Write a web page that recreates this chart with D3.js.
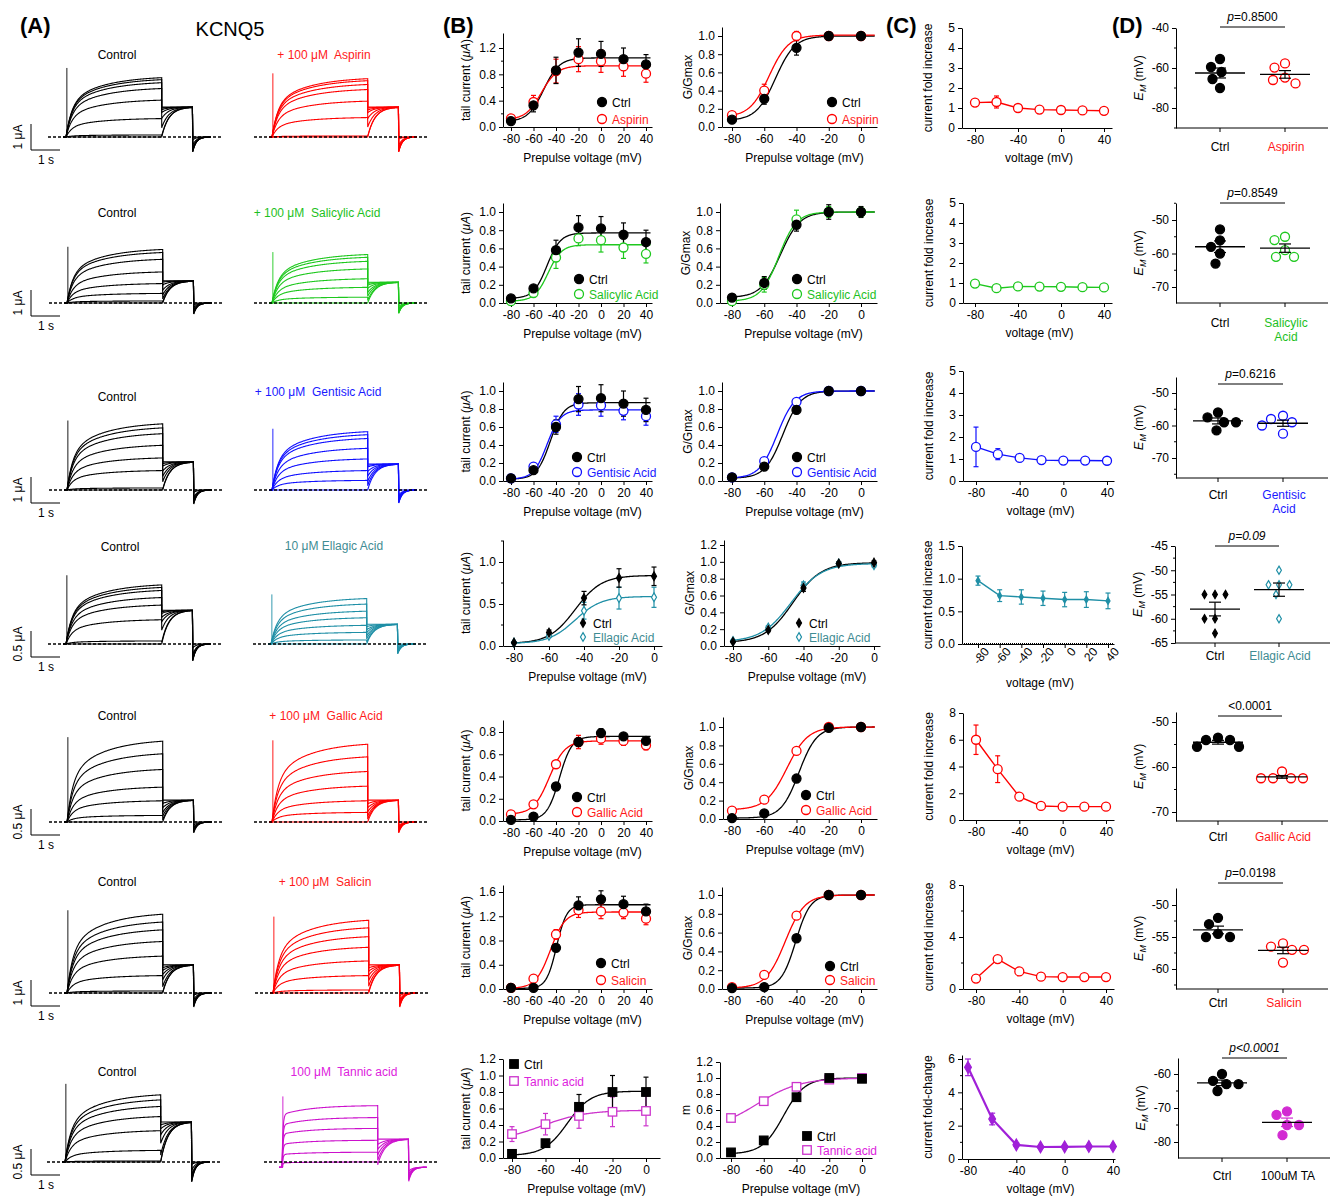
<!DOCTYPE html>
<html><head><meta charset="utf-8">
<script src="https://cdn.jsdelivr.net/npm/d3@7"></script>
<style>
body{margin:0;background:#fff;}
svg{display:block;font-family:"Liberation Sans",Arial,Helvetica,sans-serif;}
</style></head><body>
<svg id="fig" width="1336" height="1199"></svg>
<script>
// ===================== DATA =====================
const volt7=[-80,-60,-40,-20,0,20,40];
const volt5=[-80,-60,-40,-20,0];
const drugNames=["Aspirin","Salicylic Acid","Gentisic Acid","Ellagic Acid","Gallic Acid","Salicin","Tannic acid"];
const drugTitles=["+ 100 \u03bcM\u00a0 Aspirin","+ 100 \u03bcM\u00a0 Salicylic Acid","+ 100 \u03bcM\u00a0 Gentisic Acid","10 \u03bcM Ellagic Acid","+ 100 \u03bcM\u00a0 Gallic Acid","+ 100 \u03bcM\u00a0 Salicin","100 \u03bcM\u00a0 Tannic acid"];
const emLabels=[["Aspirin"],["Salicylic","Acid"],["Gentisic","Acid"],["Ellagic Acid"],["Gallic Acid"],["Salicin"],["100uM TA"]];
const pLabels=["p=0.8500","p=0.8549","p=0.6216","p=0.09","<0.0001","p=0.0198","p<0.0001"];
const scaleUnits=[1,1,1,0.5,0.5,1,0.5];

// Row 1 Aspirin
const r1TailCtrl=[0.09,0.33,0.86,1.13,1.11,1.03,0.95], r1TailCtrlErr=[0.03,0.10,0.20,0.21,0.19,0.17,0.15];
const r1TailDrug=[0.13,0.38,0.85,1.03,1.00,0.92,0.81], r1TailDrugErr=[0.03,0.10,0.18,0.19,0.17,0.15,0.13];
const r1GCtrl=[0.08,0.31,0.87,1.00,1.00], r1GCtrlErr=[0.02,0.06,0.08,0.04,0.02];
const r1GDrug=[0.13,0.40,1.00,1.00,1.00], r1GDrugErr=[0.02,0.07,0.05,0.04,0.02];
const r1FitTail=[[0.08,1.05,-51,7],[0.11,0.93,-53,7]], r1FitG=[[0.07,1.0,-53,6],[0.11,1.01,-57,6]];
const r1Fold=[1.27,1.30,1.00,0.92,0.90,0.88,0.86], r1FoldErr=[0.06,0.30,0.06,0.04,0.04,0.04,0.04];
const r1EmCtrl=[-55.5,-59.5,-62,-65.5,-70], r1EmDrug=[-57.7,-59.8,-64.8,-66,-67.7];
const r1TrCtrl=[2.35,2.27,2.15,1.92,1.46,0.73,0.08,0.0], r1TrDrug=[2.31,2.23,2.08,1.88,1.42,0.77,0.04,0.0], r1TrTail=[1.15,1.15];

// Row 2 Salicylic acid
const r2TailCtrl=[0.05,0.16,0.58,0.83,0.82,0.75,0.67], r2TailCtrlErr=[0.02,0.03,0.11,0.13,0.13,0.13,0.13];
const r2TailDrug=[0.02,0.11,0.50,0.71,0.69,0.61,0.54], r2TailDrugErr=[0.02,0.03,0.12,0.08,0.13,0.12,0.10];
const r2GCtrl=[0.06,0.22,0.86,1.0,1.0], r2GCtrlErr=[0.02,0.07,0.07,0.08,0.06];
const r2GDrug=[0.02,0.20,0.92,1.0,1.0], r2GDrugErr=[0.02,0.08,0.10,0.06,0.04];
const r2FitTail=[[0.05,0.77,-48,6],[0.02,0.64,-47,6]], r2FitG=[[0.06,1.0,-50,6],[0.02,1.0,-51,5.5]];
const r2Fold=[0.97,0.74,0.83,0.82,0.81,0.79,0.78], r2FoldErr=[0.05,0.06,0.04,0.03,0.03,0.03,0.03];
const r2EmCtrl=[-52.8,-56.1,-58,-60,-63], r2EmDrug=[-55,-56,-59,-61,-61];
const r2TrCtrl=[2.12,2.0,1.73,1.23,0.77,0.38,0.08,0.0], r2TrDrug=[1.92,1.81,1.65,1.35,0.96,0.62,0.23,0.0], r2TrTail=[0.85,0.8];

// Row 3 Gentisic acid
const r3TailCtrl=[0.03,0.12,0.60,0.91,0.92,0.86,0.79], r3TailCtrlErr=[0.01,0.03,0.08,0.14,0.15,0.14,0.13];
const r3TailDrug=[0.03,0.16,0.63,0.85,0.84,0.78,0.72], r3TailDrugErr=[0.01,0.03,0.09,0.12,0.12,0.10,0.10];
const r3GCtrl=[0.04,0.16,0.79,1.0,1.0], r3GCtrlErr=[0.01,0.02,0.04,0.01,0.01];
const r3GDrug=[0.04,0.22,0.88,1.0,1.0], r3GDrugErr=[0.01,0.03,0.03,0.01,0.01];
const r3FitTail=[[0.02,0.87,-45,6],[0.02,0.79,-48,6]], r3FitG=[[0.03,1.0,-48.5,5.5],[0.03,1.0,-52,5.5]];
const r3Fold=[1.55,1.22,1.05,0.95,0.93,0.93,0.92], r3FoldErr=[0.9,0.25,0.08,0.05,0.04,0.04,0.04];
const r3EmCtrl=[-56,-57.5,-59,-59,-61.5], r3EmDrug=[-57,-58,-59,-60,-62.5];
const r3TrCtrl=[2.62,2.46,2.23,1.77,1.27,0.77,0.08,0.0], r3TrDrug=[2.31,2.19,2.04,1.65,1.23,0.77,0.38,0.0], r3TrTail=[1.08,1.0];

// Row 4 Ellagic acid
const r4TailCtrl=[0.04,0.16,0.57,0.81,0.83], r4TailCtrlErr=[0.01,0.03,0.08,0.11,0.11];
const r4TailDrug=[0.04,0.12,0.42,0.57,0.58], r4TailDrugErr=[0.01,0.02,0.10,0.13,0.12];
const r4GCtrl=[0.05,0.19,0.69,0.98,0.99], r4GCtrlErr=[0.01,0.02,0.04,0.02,0.02];
const r4GDrug=[0.06,0.22,0.72,0.98,0.96], r4GDrugErr=[0.01,0.02,0.04,0.02,0.02];
const r4FitTail=[[0.03,0.84,-45,7.5],[0.03,0.59,-45,7.5]], r4FitG=[[0.04,0.99,-46,8],[0.05,0.98,-47,8.5]];
const r4Fold=[0.97,0.74,0.72,0.70,0.68,0.68,0.66], r4FoldErr=[0.07,0.09,0.11,0.11,0.11,0.12,0.12];
const r4EmCtrl=[-55,-55,-55,-60,-60,-63], r4EmDrug=[-50,-53,-53,-53,-55,-60];
const r4TrCtrl=[1.17,1.12,1.06,0.92,0.77,0.48,0.06,0.0], r4TrDrug=[0.90,0.79,0.65,0.52,0.37,0.23,0.08,0.0], r4TrTail=[0.65,0.38];

// Row 5 Gallic acid
const r5TailCtrl=[0.01,0.04,0.31,0.71,0.79,0.76,0.72], r5TailCtrlErr=[0.01,0.01,0.03,0.04,0.04,0.03,0.03];
const r5TailDrug=[0.06,0.15,0.51,0.71,0.74,0.72,0.68], r5TailDrugErr=[0.01,0.02,0.03,0.06,0.05,0.04,0.04];
const r5GCtrl=[0.01,0.06,0.44,0.99,1.0], r5GCtrlErr=[0.01,0.01,0.03,0.01,0.01];
const r5GDrug=[0.09,0.21,0.74,1.0,1.0], r5GDrugErr=[0.01,0.02,0.03,0.02,0.01];
const r5FitTail=[[0.01,0.76,-37,5.5],[0.06,0.72,-46,7]], r5FitG=[[0.01,1.0,-38.5,5.5],[0.1,1.0,-46,6.5]];
const r5Fold=[6.0,3.8,1.75,1.05,1.0,1.0,1.0], r5FoldErr=[1.1,1.0,0.15,0.08,0.05,0.05,0.05];
const r5EmCtrl=[-53.5,-54,-54,-55.5,-55.5], r5EmDrug=[-61,-62.5,-62.5,-62.5,-62.5];
const r5TrCtrl=[1.60,1.35,1.04,0.69,0.42,0.13,0.0], r5TrDrug=[1.54,1.29,1.0,0.71,0.42,0.19,0.0], r5TrTail=[0.42,0.42];

// Row 6 Salicin
const r6TailCtrl=[0.02,0.02,0.68,1.38,1.48,1.40,1.28], r6TailCtrlErr=[0.01,0.01,0.06,0.14,0.14,0.13,0.12];
const r6TailDrug=[0.02,0.17,0.90,1.30,1.28,1.26,1.16], r6TailDrugErr=[0.01,0.03,0.08,0.12,0.12,0.10,0.10];
const r6GCtrl=[0.01,0.02,0.54,1.0,1.0], r6GCtrlErr=[0.01,0.01,0.03,0.01,0.01];
const r6GDrug=[0.02,0.15,0.78,1.0,1.0], r6GDrugErr=[0.01,0.02,0.03,0.01,0.01];
const r6FitTail=[[0.01,1.39,-39.5,4.5],[0.01,1.27,-45,6.5]], r6FitG=[[0.01,1.0,-40.5,4.5],[0.01,1.0,-47,6]];
const r6Fold=[0.80,2.30,1.35,0.95,0.92,0.92,0.92], r6FoldErr=[0.05,0.25,0.10,0.05,0.04,0.04,0.04];
const r6EmCtrl=[-52,-53,-54.5,-55,-55], r6EmDrug=[-56,-56.5,-57,-57,-59];
const r6TrCtrl=[3.12,2.81,2.5,2.04,1.46,0.69,0.08,0.0], r6TrDrug=[2.88,2.58,2.23,1.81,1.27,0.69,0.12,0.0], r6TrTail=[1.08,1.08];

// Row 7 Tannic acid
const r7TailCtrl=[0.05,0.18,0.62,0.80,0.80], r7TailCtrlErr=[0.02,0.02,0.15,0.20,0.18];
const r7TailDrug=[0.29,0.41,0.51,0.56,0.57], r7TailDrugErr=[0.09,0.13,0.15,0.18,0.18];
const r7GCtrl=[0.07,0.22,0.76,1.0,0.99], r7GCtrlErr=[0.01,0.01,0.02,0.01,0.01];
const r7GDrug=[0.50,0.71,0.89,0.98,1.0], r7GDrugErr=[0.01,0.01,0.01,0.01,0.01];
const r7FitTail=[[0.03,0.81,-47,7],[0.2,0.58,-62,13]], r7FitG=[[0.05,1.0,-48,6.5],[0.35,1.0,-64,13]];
const r7Fold=[5.5,2.4,0.85,0.72,0.73,0.75,0.75], r7FoldErr=[0.5,0.35,0.1,0.06,0.06,0.06,0.06];
const r7EmCtrl=[-60,-62,-63,-63,-65], r7EmDrug=[-71,-72,-75,-75,-78];
const r7TrCtrl=[1.33,1.23,1.10,0.90,0.62,0.23,0.02,0.0], r7TrDrug=[1.19,0.96,0.75,0.52,0.29,0.10], r7TrTail=[0.77,0.54];

// ===================== LAYOUT / STYLE =====================
const FONT='"Liberation Sans", Arial, Helvetica, sans-serif';
const FS=12;
const svg=d3.select('#fig');
const K_SLOW={t1:0.2,t2:1.2,w:0.55,hold:0};
const K_FAST={t1:0.03,t2:1.0,w:0.85,hold:-0.1};

const ROWS=[
 {tail:[r1TailCtrl,r1TailCtrlErr,r1TailDrug,r1TailDrugErr,r1FitTail],g:[r1GCtrl,r1GCtrlErr,r1GDrug,r1GDrugErr,r1FitG],fold:[r1Fold,r1FoldErr],em:[r1EmCtrl,r1EmDrug],tr:[r1TrCtrl,r1TrDrug,r1TrTail],
  color:'#ff0000',txtColor:'#ff1a1a',cColor:'#ff0000',base:137,titleY:59,ctrlTitleX:117,drugTitleX:324,x0c:66,x0d:272,kd:K_SLOW,mk:'circle',
  T:{xLeft:503,xRight:652,xAxisY:127,yTop:33,xAnch:[-80,511,40,646],yAnch:[0,127,1.2,48],yTicks:[0,0.4,0.8,1.2],yMinor:[0.2,0.6,1.0],dec:1,leg:[602,102,119]},
  G:{xLeft:722,xRight:877,xAxisY:127,yTop:27,xAnch:[-80,732,0,861],yAnch:[0,127,1,36],yTicks:[0,.2,.4,.6,.8,1],dec:1,leg:[832,102,119]},
  C:{xLeft:962,xRight:1112,xAxisY:128,yTop:28,xAnch:[-80,975,40,1104],yAnch:[0,128,5,28],yTicks:[0,1,2,3,4,5],dec:0},
  D:{xLeft:1176,xRight:1328,yBottom:128,yTop:28,yAnch:[-40,28,-80,108],yTicks:[-40,-60,-80],yMinor:[-50,-70,-90],cats:[1220,1285],lineY:27,labY:151}},
 {tail:[r2TailCtrl,r2TailCtrlErr,r2TailDrug,r2TailDrugErr,r2FitTail],g:[r2GCtrl,r2GCtrlErr,r2GDrug,r2GDrugErr,r2FitG],fold:[r2Fold,r2FoldErr],em:[r2EmCtrl,r2EmDrug],tr:[r2TrCtrl,r2TrDrug,r2TrTail],
  color:'#1ec81e',txtColor:'#1ebf1e',cColor:'#1ec81e',base:303,titleY:217,ctrlTitleX:117,drugTitleX:317,x0c:67,x0d:272,kd:K_SLOW,mk:'circle',
  T:{xLeft:503,xRight:652,xAxisY:303,yTop:203,xAnch:[-80,511,40,646],yAnch:[0,303,1,212],yTicks:[0,.2,.4,.6,.8,1],dec:1,leg:[579,279,294]},
  G:{xLeft:720,xRight:877,xAxisY:303,yTop:203,xAnch:[-80,732,0,861],yAnch:[0,303,1,212],yTicks:[0,.2,.4,.6,.8,1],dec:1,leg:[797,279,294]},
  C:{xLeft:963,xRight:1112,xAxisY:303,yTop:203,xAnch:[-80,975,40,1104],yAnch:[0,303,5,203],yTicks:[0,1,2,3,4,5],dec:0},
  D:{xLeft:1176,xRight:1328,yBottom:303,yTop:203,yAnch:[-50,220,-70,287],yTicks:[-50,-60,-70],yMinor:[-45,-55,-65,-75],cats:[1220,1285],lineY:203,labY:327}},
 {tail:[r3TailCtrl,r3TailCtrlErr,r3TailDrug,r3TailDrugErr,r3FitTail],g:[r3GCtrl,r3GCtrlErr,r3GDrug,r3GDrugErr,r3FitG],fold:[r3Fold,r3FoldErr],em:[r3EmCtrl,r3EmDrug],tr:[r3TrCtrl,r3TrDrug,r3TrTail],
  color:'#1010ff',txtColor:'#1a1aff',cColor:'#1010ff',base:490,titleY:401,drugTitleY:396,ctrlTitleX:117,drugTitleX:318,x0c:67,x0d:272,kd:K_SLOW,mk:'circle',
  T:{xLeft:503,xRight:652,xAxisY:481,yTop:382,xAnch:[-80,511,40,646],yAnch:[0,481,1,391],yTicks:[0,.2,.4,.6,.8,1],dec:1,leg:[577,457,472]},
  G:{xLeft:722,xRight:877,xAxisY:481,yTop:382,xAnch:[-80,732,0,861],yAnch:[0,481,1,391],yTicks:[0,.2,.4,.6,.8,1],dec:1,leg:[797,457,472]},
  C:{xLeft:963,xRight:1114,xAxisY:481,yTop:371,xAnch:[-80,976,40,1107],yAnch:[0,481,5,371],yTicks:[0,1,2,3,4,5],dec:0},
  D:{xLeft:1176,xRight:1328,yBottom:478,yTop:377,yAnch:[-50,393,-70,458],yTicks:[-50,-60,-70],yMinor:[-55,-65,-75],cats:[1218,1283],lineY:384,labY:499}},
 {tail:[r4TailCtrl,r4TailCtrlErr,r4TailDrug,r4TailDrugErr,r4FitTail],g:[r4GCtrl,r4GCtrlErr,r4GDrug,r4GDrugErr,r4FitG],fold:[r4Fold,r4FoldErr],em:[r4EmCtrl,r4EmDrug],tr:[r4TrCtrl,r4TrDrug,r4TrTail],
  color:'#1f8fa6',txtColor:'#3f8c93',cColor:'#1f8fa6',base:644,titleY:551,drugTitleY:550,ctrlTitleX:120,drugTitleX:334,x0c:66,x0d:271,kd:K_SLOW,mk:'diamond',
  T:{xLeft:503,xRight:662,xAxisY:646,yTop:540,xAnch:[-80,514,0,654],yAnch:[0,646,1,562],yTicks:[0,.5,1],yMinor:[0.25,0.75,1.25],dec:1,leg:[583,623,637]},
  G:{xLeft:724,xRight:880,xAxisY:646,yTop:540,xAnch:[-80,733,0,874],yAnch:[0,646,1.2,545],yTicks:[0,.2,.4,.6,.8,1,1.2],dec:1,leg:[799,623,637]},
  C:{xLeft:962,xRight:1114,xAxisY:644,yTop:546,xAnch:[-80,978,40,1108],yAnch:[0,644,1.5,546],yTicks:[0,.5,1,1.5],dec:1,rot:true},
  D:{xLeft:1175,xRight:1330,yBottom:643,yTop:546,yAnch:[-45,546,-65,643],yTicks:[-45,-50,-55,-60,-65],yMinor:[-47.5,-52.5,-57.5,-62.5],cats:[1215,1279],lineY:546,labY:660}},
 {tail:[r5TailCtrl,r5TailCtrlErr,r5TailDrug,r5TailDrugErr,r5FitTail],g:[r5GCtrl,r5GCtrlErr,r5GDrug,r5GDrugErr,r5FitG],fold:[r5Fold,r5FoldErr],em:[r5EmCtrl,r5EmDrug],tr:[r5TrCtrl,r5TrDrug,r5TrTail],
  color:'#ff0000',txtColor:'#ff1a1a',cColor:'#ff0000',base:822,titleY:720,ctrlTitleX:117,drugTitleX:326,x0c:67,x0d:272,kd:K_SLOW,mk:'circle',
  T:{xLeft:503,xRight:652,xAxisY:821,yTop:720,xAnch:[-80,511,40,646],yAnch:[0,821,0.8,732],yTicks:[0,.2,.4,.6,.8],dec:1,leg:[577,797,812]},
  G:{xLeft:723,xRight:877,xAxisY:819,yTop:717,xAnch:[-80,732,0,861],yAnch:[0,819,1,727],yTicks:[0,.2,.4,.6,.8,1],dec:1,leg:[806,795,810]},
  C:{xLeft:963,xRight:1114,xAxisY:820,yTop:713,xAnch:[-80,976,40,1106],yAnch:[0,820,8,713],yTicks:[0,2,4,6,8],dec:0},
  D:{xLeft:1176,xRight:1328,yBottom:821,yTop:712,yAnch:[-50,722,-70,812],yTicks:[-50,-60,-70],yMinor:[-55,-65],cats:[1218,1282],lineY:716,labY:841}},
 {tail:[r6TailCtrl,r6TailCtrlErr,r6TailDrug,r6TailDrugErr,r6FitTail],g:[r6GCtrl,r6GCtrlErr,r6GDrug,r6GDrugErr,r6FitG],fold:[r6Fold,r6FoldErr],em:[r6EmCtrl,r6EmDrug],tr:[r6TrCtrl,r6TrDrug,r6TrTail],
  color:'#ff0000',txtColor:'#ff1a1a',cColor:'#ff0000',base:993,titleY:886,ctrlTitleX:117,drugTitleX:325,x0c:67,x0d:273,kd:K_SLOW,mk:'circle',
  T:{xLeft:503,xRight:652,xAxisY:989,yTop:885,xAnch:[-80,511,40,646],yAnch:[0,989,1.6,892],yTicks:[0,.4,.8,1.2,1.6],dec:1,leg:[601,963,980]},
  G:{xLeft:722,xRight:877,xAxisY:989,yTop:887,xAnch:[-80,732,0,861],yAnch:[0,989,1,895],yTicks:[0,.2,.4,.6,.8,1],dec:1,leg:[830,966,980]},
  C:{xLeft:963,xRight:1114,xAxisY:989,yTop:885,xAnch:[-80,976,40,1106],yAnch:[0,989,8,885],yTicks:[0,4,8],yMinor:[2,6],dec:0},
  D:{xLeft:1176,xRight:1328,yBottom:989,yTop:888,yAnch:[-50,905,-60,969],yTicks:[-50,-55,-60],yMinor:[-52.5,-57.5,-62.5],cats:[1218,1283],lineY:883,labY:1007}},
 {tail:[r7TailCtrl,r7TailCtrlErr,r7TailDrug,r7TailDrugErr,r7FitTail],g:[r7GCtrl,r7GCtrlErr,r7GDrug,r7GDrugErr,r7FitG],fold:[r7Fold,r7FoldErr],em:[r7EmCtrl,r7EmDrug],tr:[r7TrCtrl,r7TrDrug,r7TrTail],
  color:'#cc33cc',txtColor:'#dd22dd',cColor:'#a020d8',emColor:'#d22ad2',trColor:'#cc11cc',base:1162,titleY:1076,ctrlTitleX:117,drugTitleX:344,x0c:65,x0d:282,kd:K_FAST,mk:'square',
  T:{xLeft:503,xRight:660,xAxisY:1158,yTop:1059,xAnch:[-80,512,0,646],yAnch:[0,1158,1.2,1059],yTicks:[0,.2,.4,.6,.8,1,1.2],dec:1,leg:[514,1064,1081]},
  G:{xLeft:720,xRight:872,xAxisY:1158,yTop:1062,xAnch:[-80,731,0,862],yAnch:[0,1158,1.2,1062],yTicks:[0,.2,.4,.6,.8,1,1.2],dec:1,leg:[807,1136,1150],ylab:'m'},
  C:{xLeft:962,xRight:1115,xAxisY:1159,yTop:1055,xAnch:[-80,968,40,1113],yAnch:[0,1159,6,1059],yTicks:[0,2,4,6],yMinor:[1,3,5],dec:0,ylab:'current fold-change'},
  D:{xLeft:1178,xRight:1330,yBottom:1158,yTop:1058,yAnch:[-60,1074,-80,1142],yTicks:[-60,-70,-80],yMinor:[-65,-75,-85],cats:[1222,1287],lineY:1058,labY:1180}}
];

// ===================== HELPERS =====================
function lin(anch,ext){const s0=d3.scaleLinear().domain([anch[0],anch[2]]).range([anch[1],anch[3]]);return d3.scaleLinear().domain(ext.map(p=>s0.invert(p))).range(ext);}
function boltz(p,v){return p[0]+(p[1]-p[0])/(1+Math.exp((p[2]-v)/p[3]));}
function txt(parent,x,y,s,o={}){const t=parent.append('text').attr('x',x).attr('y',y).text(s).attr('font-size',o.size||FS).attr('font-family',FONT).attr('fill',o.color||'#000').attr('text-anchor',o.anchor||'middle');if(o.weight)t.attr('font-weight',o.weight);if(o.italic)t.attr('font-style','italic');if(o.rot)t.attr('transform',`rotate(${o.rot},${x},${y})`);return t;}
function styleAxis(sel){sel.attr('font-family',FONT).attr('font-size',FS);sel.selectAll('path.domain').attr('stroke','#000').attr('stroke-width',1);sel.selectAll('.tick line').attr('stroke','#000');sel.selectAll('.tick text').attr('fill','#000').attr('font-size',FS);}
function marker(g,type,x,y,color,filled,sz){
  const fill=filled?color:'#fff';
  if(type==='circle') g.append('circle').attr('cx',x).attr('cy',y).attr('r',sz||4.5).attr('fill',fill).attr('stroke',color).attr('stroke-width',1.3);
  else if(type==='square'){const s=sz||8.5;g.append('rect').attr('x',x-s/2).attr('y',y-s/2).attr('width',s).attr('height',s).attr('fill',fill).attr('stroke',color).attr('stroke-width',1.3);}
  else g.append('path').attr('d',d3.symbol(d3.symbolDiamond,sz||22)()).attr('transform',`translate(${x},${y})`).attr('fill',fill).attr('stroke',color).attr('stroke-width',1.2);
}
function yMinorTicks(g,x,y,vals,len){(vals||[]).forEach(v=>{if(v<Math.min(...y.domain())-1e-9||v>Math.max(...y.domain())+1e-9)return;g.append('line').attr('x1',x-len).attr('x2',x).attr('y1',y(v)).attr('y2',y(v)).attr('stroke','#000');});}
function errBar(g,x,y0,y1,color,cap){g.append('line').attr('x1',x).attr('x2',x).attr('y1',y0).attr('y2',y1).attr('stroke',color).attr('stroke-width',1.2);[y0,y1].forEach(yy=>g.append('line').attr('x1',x-cap).attr('x2',x+cap).attr('y1',yy).attr('y2',yy).attr('stroke',color).attr('stroke-width',1.2));}
function ylabelRot(g,x,y,parts){const t=g.append('text').attr('transform',`translate(${x},${y}) rotate(-90)`).attr('text-anchor','middle').attr('font-size',FS).attr('font-family',FONT);parts.forEach(p=>{const s=t.append('tspan').text(p.t);if(p.i)s.attr('font-style','italic');if(p.sub)s.attr('font-size',9).attr('dy',3);if(p.up)s.attr('dy',-3);if(p.big)s.attr('font-size',13);});return t;}

// ===================== PANEL LETTERS =====================
txt(svg,20,33,'(A)',{size:22,weight:'bold',anchor:'start'});
txt(svg,443,33,'(B)',{size:22,weight:'bold',anchor:'start'});
txt(svg,886,33,'(C)',{size:22,weight:'bold',anchor:'start'});
txt(svg,1112,33,'(D)',{size:22,weight:'bold',anchor:'start'});
txt(svg,230,36,'KCNQ5',{size:20});

// ===================== PANEL A: traces =====================
function drawTraces(g,x0,base,unit,amps,tail,kin,color,spike){
  const tx=d3.scaleLinear().domain([0,1]).range([x0,x0+29]);
  const ty=d3.scaleLinear().domain([0,unit]).range([base,base-26]);
  const amax=d3.max(amps);
  const line=d3.line().x(d=>tx(d[0])).y(d=>ty(d[1]));
  const tStep=3.3,tTail=1.07,tPost=0.62;
  amps.forEach((A,i)=>{
    const f=amax>0?A/amax:0;
    const pts=[[-0.1,kin.hold],[0,kin.hold]];
    for(let t=0.02;t<=tStep+1e-9;t+=0.02) pts.push([t,kin.hold+A*(1-kin.w*Math.exp(-t/kin.t1)-(1-kin.w)*Math.exp(-t/kin.t2))]);
    const s=tail*f;
    for(let t=0;t<=tTail+1e-9;t+=0.02) pts.push([tStep+t,kin.hold+tail-(tail-s)*Math.exp(-t/0.25)]);
    const N=0.5*tail*Math.sqrt(f);
    for(let t=0;t<=tPost+1e-9;t+=0.02) pts.push([tStep+tTail+t,kin.hold-N*Math.exp(-t/0.12)]);
    g.append('path').attr('d',line(pts)).attr('fill','none').attr('stroke',color).attr('stroke-width',1.1);
  });
  g.append('line').attr('x1',tx(0.03)).attr('x2',tx(0.03)).attr('y1',ty(kin.hold)).attr('y2',ty(amax*spike)).attr('stroke',color).attr('stroke-width',0.9);
  g.append('line').attr('x1',x0-18).attr('x2',x0+155).attr('y1',base).attr('y2',base).attr('stroke','#000').attr('stroke-width',1.4).attr('stroke-dasharray','3,2');
}

ROWS.forEach((R,ri)=>{
  const gA=svg.append('g');
  txt(gA,R.ctrlTitleX,R.titleY,'Control');
  txt(gA,R.drugTitleX,R.drugTitleY||R.titleY,drugTitles[ri],{color:R.txtColor});
  const unit=scaleUnits[ri];
  const big=(ri===0||ri===3||ri===6);
  drawTraces(gA,R.x0c,R.base,unit,R.tr[0],R.tr[2][0],K_SLOW,'#000',big?1.13:1.02);
  drawTraces(gA,R.x0d,R.base,unit,R.tr[1],R.tr[2][1],R.kd,R.trColor||R.color,big?1.06:1.02);
  const sb=d3.scaleLinear().domain([0,unit]).range([R.base+13,R.base-13]);
  gA.append('path').attr('d',`M31,${sb(unit)}V${sb(0)}H60`).attr('fill','none').attr('stroke','#000').attr('stroke-width',1);
  txt(gA,22,R.base,(unit===1?'1':'0.5')+' \u03bcA',{rot:-90});
  txt(gA,46,R.base+27,'1 s');
});

// ===================== PANEL B =====================
function drawB(cfg,xTicks,volts,ctrl,ctrlErr,drug,drugErr,fits,R,ri,isG){
  const g=svg.append('g');
  const x=lin(cfg.xAnch,[cfg.xLeft,cfg.xRight]);
  const y=lin(cfg.yAnch,[cfg.xAxisY,cfg.yTop]);
  g.append('g').attr('transform',`translate(0,${cfg.xAxisY})`).call(d3.axisBottom(x).tickValues(xTicks).tickSize(4).tickSizeOuter(0).tickFormat(d=>String(d))).call(styleAxis);
  g.append('g').attr('transform',`translate(${cfg.xLeft},0)`).call(d3.axisLeft(y).tickValues(cfg.yTicks).tickSize(4).tickSizeOuter(0).tickFormat(d=>d.toFixed(cfg.dec))).call(styleAxis);
  yMinorTicks(g,cfg.xLeft,y,cfg.yMinor,2);
  const dc=R.color;
  const fitTo=(volts.length===7||isG&&ri!==3&&ri!==6)?x.invert(cfg.xRight)-1:0;
  const vs=d3.range(-80,fitTo+0.01,0.5);
  [[fits[0],'#000'],[fits[1],dc]].forEach(([p,c])=>{
    g.append('path').attr('d',d3.line().x(v=>x(v)).y(v=>y(boltz(p,v)))(vs)).attr('fill','none').attr('stroke',c).attr('stroke-width',1.3);
  });
  const mk=R.mk, msz=mk==='diamond'?22:null;
  const showErr=!isG||ri<6;
  if(showErr){
    volts.forEach((v,i)=>{errBar(g,x(v),y(drug[i]-drugErr[i]),y(drug[i]+drugErr[i]),dc,2.5);});
    volts.forEach((v,i)=>{errBar(g,x(v),y(ctrl[i]-ctrlErr[i]),y(ctrl[i]+ctrlErr[i]),'#000',2.5);});
  }
  volts.forEach((v,i)=>marker(g,mk,x(v),y(drug[i]),dc,false,msz));
  volts.forEach((v,i)=>marker(g,mk,x(v),y(ctrl[i]),'#000',true,msz));
  const L=cfg.leg;
  marker(g,mk,L[0],L[1],'#000',true,msz);
  marker(g,mk,L[0],L[2],dc,false,msz);
  txt(g,L[0]+10,L[1]+4.5,'Ctrl',{anchor:'start'});
  txt(g,L[0]+10,L[2]+4.5,drugNames[ri],{anchor:'start',color:R.txtColor});
  txt(g,(cfg.xLeft+cfg.xRight)/2+5,cfg.xAxisY+35,'Prepulse voltage (mV)');
  const yc=(cfg.xAxisY+cfg.yTop)/2;
  if(isG) ylabelRot(g,cfg.xLeft-30,yc,[{t:cfg.ylab||'G/Gmax'}]);
  else ylabelRot(g,cfg.xLeft-33,yc,[{t:'tail current ('},{t:'\u03bcA',i:true},{t:')'}]);
}

// ===================== PANEL C =====================
function drawC(cfg,vals,errs,R,ri){
  const g=svg.append('g');
  const x=lin(cfg.xAnch,[cfg.xLeft,cfg.xRight]);
  const y=lin(cfg.yAnch,[cfg.xAxisY,cfg.yTop]);
  const xt=cfg.rot?volt7:[-80,-40,0,40];
  const ax=g.append('g').attr('transform',`translate(0,${cfg.xAxisY})`).call(d3.axisBottom(x).tickValues(xt).tickSize(4).tickSizeOuter(0).tickFormat(d=>String(d))).call(styleAxis);
  if(cfg.rot){ax.selectAll('.tick text').attr('transform','rotate(-50)').attr('text-anchor','end').attr('dx','0.1em').attr('dy','0.9em').attr('y',3);
    g.append('line').attr('x1',cfg.xLeft).attr('x2',cfg.xRight).attr('y1',cfg.xAxisY-0.5).attr('y2',cfg.xAxisY-0.5).attr('stroke','#000').attr('stroke-dasharray','1,1');}
  g.append('g').attr('transform',`translate(${cfg.xLeft},0)`).call(d3.axisLeft(y).tickValues(cfg.yTicks).tickSize(4).tickSizeOuter(0).tickFormat(d=>d.toFixed(cfg.dec))).call(styleAxis);
  yMinorTicks(g,cfg.xLeft,y,cfg.yMinor,2);
  const c=R.cColor;
  g.append('path').attr('d',d3.line().x((d,i)=>x(volt7[i])).y(d=>y(d))(vals)).attr('fill','none').attr('stroke',c).attr('stroke-width',ri===6?2.2:1.4);
  volt7.forEach((v,i)=>errBar(g,x(v),y(vals[i]-errs[i]),y(vals[i]+errs[i]),c,ri===6?3:2.5));
  volt7.forEach((v,i)=>{
    if(ri===3) marker(g,'diamond',x(v),y(vals[i]),c,true,14);
    else if(ri===6) marker(g,'diamond',x(v),y(vals[i]),c,true,40);
    else marker(g,'circle',x(v),y(vals[i]),c,false,4.5);
  });
  txt(g,(cfg.xLeft+cfg.xRight)/2+2,cfg.xAxisY+(cfg.rot?43:34),'voltage (mV)');
  ylabelRot(g,cfg.xLeft-30,(cfg.xAxisY+cfg.yTop)/2,[{t:cfg.ylab||'current fold increase'}]);
}

// ===================== PANEL D =====================
function dodge(vals,y,r){
  const order=vals.map(v=>({v,y:y(v)})).sort((a,b)=>a.y-b.y);const placed=[];
  order.forEach(p=>{let best=0;outer:for(let k=0;k<40;k++){for(const sg of (k?[-1,1]:[1])){const dx=sg*k*1.5;if(placed.every(q=>Math.hypot(q.dx-dx,q.y-p.y)>=2*r+2)){best=dx;break outer;}}}p.dx=best;placed.push(p);});
  return placed;
}
function drawD(cfg,ctrl,drug,R,ri){
  const g=svg.append('g');
  const y=lin(cfg.yAnch,[cfg.yBottom,cfg.yTop]);
  g.append('g').attr('transform',`translate(${cfg.xLeft},0)`).call(d3.axisLeft(y).tickValues(cfg.yTicks).tickSize(4).tickSizeOuter(0).tickFormat(d=>String(d))).call(styleAxis);
  yMinorTicks(g,cfg.xLeft,y,cfg.yMinor,2);
  g.append('line').attr('x1',cfg.xLeft).attr('x2',cfg.xRight).attr('y1',cfg.yBottom).attr('y2',cfg.yBottom).attr('stroke','#000');
  cfg.cats.forEach(cx=>g.append('line').attr('x1',cx).attr('x2',cx).attr('y1',cfg.yBottom).attr('y2',cfg.yBottom+4).attr('stroke','#000'));
  const dcol=ri===6?(R.emColor):R.color;
  const mk=ri===3?'diamond':'circle';
  const filledDrug=(ri===6);
  [[ctrl,'#000',true,cfg.cats[0]],[drug,dcol,filledDrug,cfg.cats[1]]].forEach(([vals,col,filled,cx],k)=>{
    const pts=dodge(vals,y,mk==='diamond'?4:4.5);
    pts.forEach(p=>marker(g,mk,cx+p.dx,p.y,col,filled,mk==='diamond'?20:4.5));
    const m=d3.mean(vals),se=d3.deviation(vals)/Math.sqrt(vals.length);
    const lc=(ri===6&&k===1)?dcol:'#000';
    g.append('line').attr('x1',cx-25).attr('x2',cx+25).attr('y1',y(m)).attr('y2',y(m)).attr('stroke','#000').attr('stroke-width',1.3);
    errBar(g,cx,y(m-se),y(m+se),lc,6);
  });
  g.append('line').attr('x1',cfg.cats[0]).attr('x2',cfg.cats[1]).attr('y1',cfg.lineY).attr('y2',cfg.lineY).attr('stroke','#000').attr('stroke-width',1);
  const pm=(cfg.cats[0]+cfg.cats[1])/2;
  const pl=pLabels[ri];
  const pt=g.append('text').attr('x',pm).attr('y',cfg.lineY-6).attr('text-anchor','middle').attr('font-size',FS).attr('font-family',FONT);
  if(ri===3||ri===6) pt.append('tspan').text(pl).attr('font-style','italic');
  else if(pl.startsWith('p')){pt.append('tspan').text('p').attr('font-style','italic');pt.append('tspan').text(pl.slice(1));}
  else pt.append('tspan').text(pl);
  txt(g,cfg.cats[0],cfg.labY,'Ctrl');
  emLabels[ri].forEach((l,j)=>txt(g,cfg.cats[1]+1,cfg.labY+j*14,l,{color:ri===6?'#000':R.txtColor}));
  ylabelRot(g,cfg.xLeft-33,(cfg.yBottom+cfg.yTop)/2,[{t:'E',i:true,big:true},{t:'M',i:true,sub:true},{t:' (mV)',up:true}]);
}

ROWS.forEach((R,ri)=>{
  const v=R.tail[0].length===7?volt7:volt5;
  drawB(R.T,v,v,R.tail[0],R.tail[1],R.tail[2],R.tail[3],R.tail[4],R,ri,false);
  drawB(R.G,volt5,volt5,R.g[0],R.g[1],R.g[2],R.g[3],R.g[4],R,ri,true);
  drawC(R.C,R.fold[0],R.fold[1],R,ri);
  drawD(R.D,R.em[0],R.em[1],R,ri);
});
</script>
</body></html>
